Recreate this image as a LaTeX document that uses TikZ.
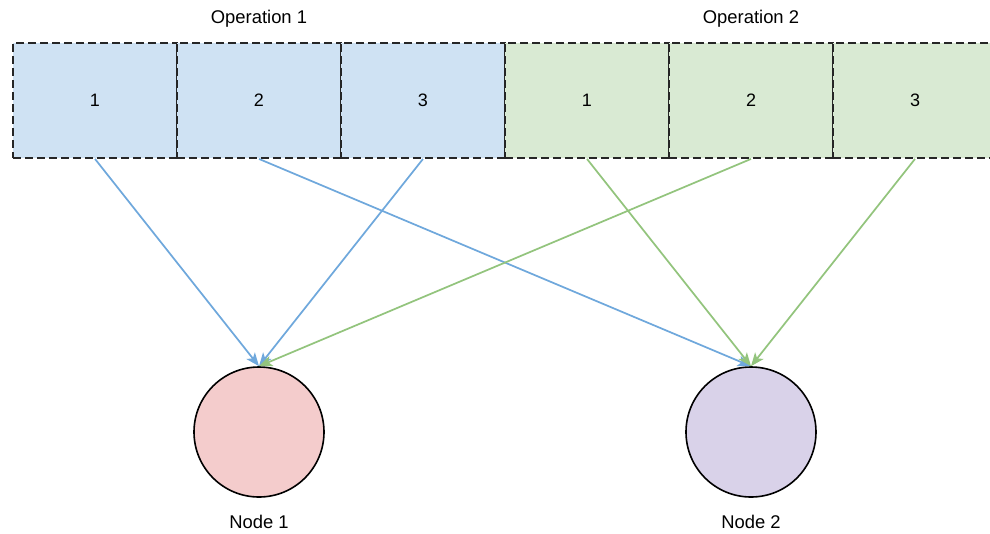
\documentclass[tikz,border=0pt]{standalone}
\usepackage{fontspec}
\setmainfont{Liberation Sans}
\usetikzlibrary{arrows.meta}
\definecolor{bluefill}{HTML}{CFE2F3}
\definecolor{greenfill}{HTML}{D9EAD3}
\definecolor{redfill}{HTML}{F4CCCC}
\definecolor{purplefill}{HTML}{D9D2E9}
\definecolor{bluearrow}{HTML}{6FA8DC}
\definecolor{greenarrow}{HTML}{93C47D}
\tikzset{
  slot/.style={draw=black!85, line width=1.4pt, dash pattern=on 6pt off 3pt,
    minimum width=123pt, minimum height=86.25pt, inner sep=0pt, font=\fontsize{13.5}{16}\selectfont},
  opslot/.style={slot, fill=bluefill},
  gslot/.style={slot, fill=greenfill},
  dest/.style={circle, draw=black, line width=1.2pt, minimum size=97.5pt, inner sep=0pt},
  lbl/.style={font=\fontsize{13.8}{16}\selectfont, inner sep=0pt},
  barrow/.style={draw=bluearrow, line width=1.3pt, -{Stealth[length=10pt,width=8pt,inset=2.5pt]}},
  garrow/.style={draw=greenarrow, line width=1.3pt, -{Stealth[length=10pt,width=8pt,inset=2.5pt]}},
}
\begin{document}
\begin{tikzpicture}[x=0.75pt,y=-0.75pt]
\useasboundingbox (0,0) rectangle (990,533);
\clip (0,0) rectangle (990,533);
\node[opslot] (a1) at (95,100.5) {1};
\node[opslot] (a2) at (259,100.5) {2};
\node[opslot] (a3) at (423,100.5) {3};
\node[gslot] (b1) at (587,100.5) {1};
\node[gslot] (b2) at (751,100.5) {2};
\node[gslot] (b3) at (915,100.5) {3};
\node[lbl] (op1) at (259,19) {Operation 1};
\node[lbl] (op2) at (751,19) {Operation 2};
\node[dest, fill=redfill] (n1) at (259,432) {};
\node[dest, fill=purplefill] (n2) at (751,432) {};
\node[lbl] (l1) at (259,522) {Node 1};
\node[lbl] (l2) at (751,522) {Node 2};
\draw[barrow] (a1.south) -- (n1.north);
\draw[barrow] (a3.south) -- (n1.north);
\draw[barrow] (a2.south) -- (n2.north);
\draw[garrow] (b2.south) -- (n1.north);
\draw[garrow] (b1.south) -- (n2.north);
\draw[garrow] (b3.south) -- (n2.north);
\end{tikzpicture}
\end{document}
